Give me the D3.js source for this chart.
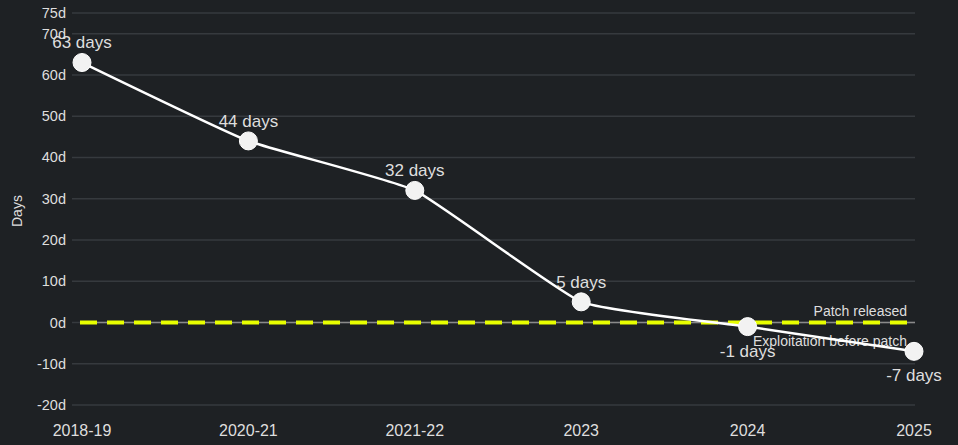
<!DOCTYPE html>
<html><head><meta charset="utf-8">
<script src="https://cdn.jsdelivr.net/npm/d3@7"></script>
<style>html,body{margin:0;padding:0;background:#1e2124;}svg{display:block;font-family:"Helvetica Neue",Arial,"Liberation Sans",sans-serif;}</style>
</head><body><svg id="c" width="958" height="445"></svg>
<script>
const categories = ["2018-19","2020-21","2021-22","2023","2024","2025"];
const days = [63, 44, 32, 5, -1, -7];
const pointLabels = ["63 days","44 days","32 days","5 days","-1 days","-7 days"];
const yTicks = [-20,-10,0,10,20,30,40,50,60,70,75];
const yTitle = "Days";
const refLabels = ["Patch released","Exploitation before patch"];

const svg = d3.select("#c");
svg.append("rect").attr("width",958).attr("height",445).attr("fill","#1e2124");
const x = d3.scalePoint().domain(categories).range([82, 914]).padding(0);
const y = d3.scaleLinear().domain([-20, 75]).range([405, 13]);

// grid
svg.append("g").selectAll("line").data(yTicks).join("line")
  .attr("x1",72).attr("x2",915).attr("y1",d=>y(d)).attr("y2",d=>y(d))
  .attr("stroke","#363a3e").attr("stroke-width",1.5);
// y labels
svg.append("g").selectAll("text").data(yTicks).join("text")
  .attr("x",66).attr("y",d=>y(d)).attr("dy","0.35em").attr("text-anchor","end")
  .attr("fill","#dedede").attr("font-size",14.5).text(d=>d+"d");
svg.append("text").attr("transform","translate(22,"+y(27)+") rotate(-90)")
  .attr("text-anchor","middle").attr("fill","#dedede").attr("font-size",14).text(yTitle);
// x labels
svg.append("g").selectAll("text").data(categories).join("text")
  .attr("x",d=>x(d)).attr("y",430).attr("dy","0.35em").attr("text-anchor","middle")
  .attr("fill","#dedede").attr("font-size",16).text(d=>d);

// zero dashed line
svg.append("line").attr("x1",80).attr("x2",915).attr("y1",y(0)).attr("y2",y(0))
  .attr("stroke","#8a8a8a").attr("stroke-width",1.5);
svg.append("line").attr("x1",80).attr("x2",915).attr("y1",y(0)).attr("y2",y(0))
  .attr("stroke","#e8ff00").attr("stroke-width",4).attr("stroke-dasharray","17,10");
svg.append("text").attr("x",907).attr("y",y(0)-11).attr("dy","0.35em").attr("text-anchor","end")
  .attr("fill","#dedede").attr("font-size",14).text(refLabels[0]);
svg.append("text").attr("x",907).attr("y",y(0)+19).attr("dy","0.35em").attr("text-anchor","end")
  .attr("fill","#dedede").attr("font-size",14).text(refLabels[1]);

const data = categories.map((c,i)=>({c, v:days[i], l:pointLabels[i]}));
const line = d3.line().x(d=>x(d.c)).y(d=>y(d.v)).curve(d3.curveCardinal.tension(0.6));
svg.append("path").datum(data).attr("d",line).attr("fill","none")
  .attr("stroke","#ffffff").attr("stroke-width",2.5);
svg.append("g").selectAll("circle").data(data).join("circle")
  .attr("cx",d=>x(d.c)).attr("cy",d=>y(d.v)).attr("r",9)
  .attr("fill","#f2f2f2").attr("stroke","#ffffff").attr("stroke-width",1);
svg.append("g").selectAll("text").data(data).join("text")
  .attr("x",d=>x(d.c)).attr("y",d=>d.v>=0 ? y(d.v)-20 : y(d.v)+24)
  .attr("dy","0.35em").attr("text-anchor","middle")
  .attr("fill","#dedede").attr("font-size",17).text(d=>d.l);
</script></body></html>
